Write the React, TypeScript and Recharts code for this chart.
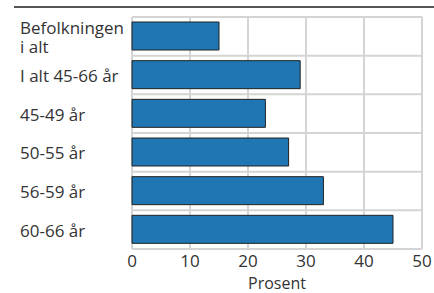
import React from 'react';
import { BarChart, Bar, XAxis, YAxis, CartesianGrid } from 'recharts';

const categories = ['Befolkningen\ni alt', 'I alt 45-66 år', '45-49 år', '50-55 år', '56-59 år', '60-66 år'];
const values = [15, 29, 23, 27, 33, 45];
const xTicks = [0, 10, 20, 30, 40, 50];

const data = categories.map((name, i) => ({ name, value: values[i] }));

const FONT = '"Open Sans", sans-serif';
const TEXT = '#333333';

const YTick = (props: any) => {
  const { y, payload } = props;
  const lines = String(payload.value).split('\n');
  const lh = 19;
  const start = y - ((lines.length - 1) * lh) / 2;
  return (
    <text x={20} y={start} textAnchor="start" fill={TEXT} fontSize={17} fontFamily={FONT} dominantBaseline="central">
      {lines.map((l, i) => (
        <tspan key={i} x={20} y={start + i * lh}>{l}</tspan>
      ))}
    </text>
  );
};

// grid lines between categories, not through the middle of the bars
const bandLines = ({ offset }: any) => {
  const step = offset.height / categories.length;
  return categories.map((_, i) => offset.top + i * step).concat(offset.top + offset.height);
};

export default function App() {
  return (
    <div style={{ position: 'absolute', left: 0, top: 0, width: 434, height: 293, background: '#fff' }}>
      <div style={{ position: 'absolute', left: 14, top: 6, width: 420, borderTop: '2px solid #555' }} />
      <BarChart
        width={434}
        height={293}
        data={data}
        layout="vertical"
        margin={{ top: 17, right: 12, bottom: 0, left: 0 }}
        barCategoryGap={5}
      >
        <CartesianGrid stroke="#d4d4d4" strokeWidth={2} horizontalCoordinatesGenerator={bandLines} />
        <XAxis
          type="number"
          domain={[0, 50]}
          ticks={xTicks}
          axisLine={false}
          tickLine={false}
          height={44}
          tickMargin={0}
          tick={{ fill: TEXT, fontSize: 17, fontFamily: FONT }}
          label={{ value: 'Prosent', position: 'insideBottom', offset: 4, fill: TEXT, fontSize: 16, fontFamily: FONT }}
        />
        <YAxis
          type="category"
          dataKey="name"
          width={132}
          axisLine={false}
          tickLine={false}
          tick={<YTick />}
          interval={0}
        />
        <Bar dataKey="value" fill="#1f76b3" stroke="#222" strokeWidth={1} barSize={28} isAnimationActive={false} />
      </BarChart>
    </div>
  );
}
